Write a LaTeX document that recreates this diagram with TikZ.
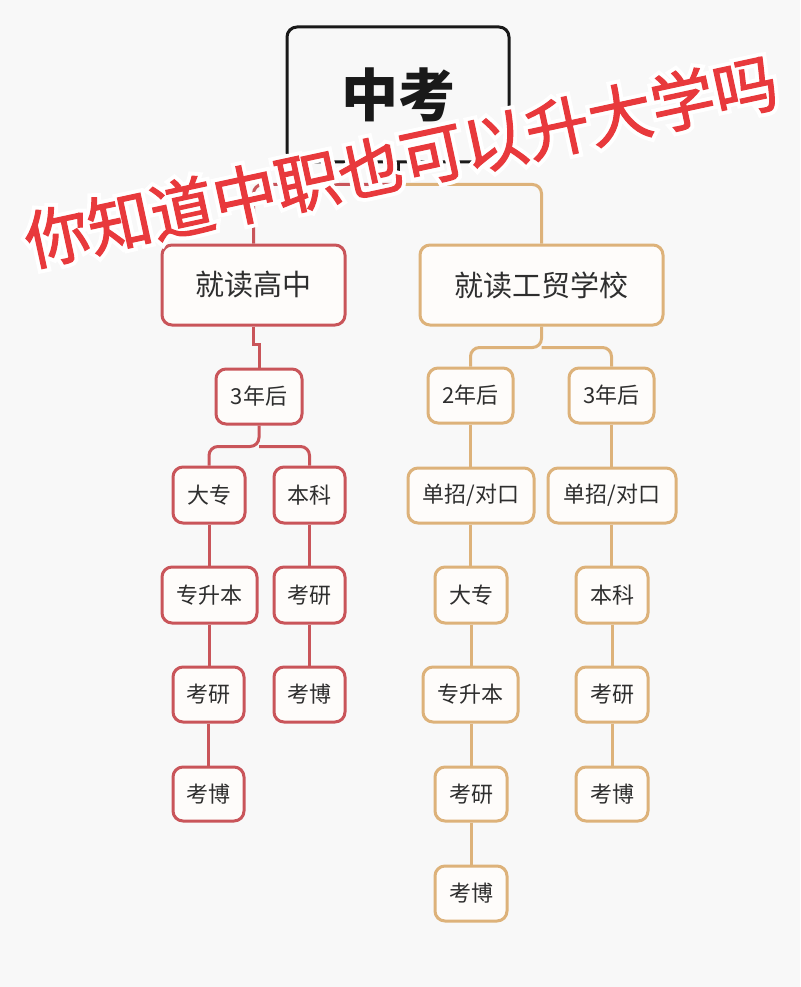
\documentclass[tikz,border=0pt]{standalone}
\usepackage{fontspec}
\setmainfont{Noto Sans CJK SC}
\newfontfamily\overlayfont[FakeBold=1.8]{Noto Sans CJK SC}
\newfontfamily\halofont[FakeBold=14]{Noto Sans CJK SC}
\usetikzlibrary{calc}
\definecolor{bgc}{HTML}{F8F8F8}
\definecolor{boxfill}{HTML}{FEFCFA}
\definecolor{redb}{HTML}{C9555A}
\definecolor{orgb}{HTML}{DDB27A}
\definecolor{txt}{HTML}{2E2E2E}
\definecolor{ovred}{HTML}{E8393C}
\tikzset{
  basebox/.style={rectangle, rounded corners=10pt, line width=3pt, fill=boxfill,
    text=txt, inner sep=0pt, font=\fontsize{22}{26}\selectfont},
  redbox/.style={basebox, draw=redb},
  orgbox/.style={basebox, draw=orgb},
  bigtxt/.style={font=\fontsize{29}{34}\selectfont},
  redline/.style={draw=redb, line width=3pt},
  orgline/.style={draw=orgb, line width=3pt},
  blkline/.style={draw=black!90, line width=3pt},
  ovtext/.style={rotate=12.2, inner sep=0pt}
}
\begin{document}
\begin{tikzpicture}[x=1pt,y=-1pt]
\useasboundingbox (0,0) rectangle (800,987);
\fill[bgc] (0,0) rectangle (800,987);

% top box
\node[rectangle, rounded corners=10pt, line width=3pt, draw=black!90, fill=bgc,
  minimum width=222pt, minimum height=135pt, inner sep=0pt,
  font=\bfseries\fontsize{57}{62}\selectfont, text=black!90] (zk) at (398,94.5) {中考};

% left branch
\node[redbox, bigtxt, minimum width=183pt, minimum height=80pt] (hs) at (253.5,285) {就读高中};
\node[redbox, minimum width=86pt, minimum height=55pt] (l3) at (259,396.5) {3年后};
\node[redbox, minimum width=72pt, minimum height=56pt] (ldz) at (209,495) {大专};
\node[redbox, minimum width=71pt, minimum height=56pt] (lbk) at (309.5,495) {本科};
\node[redbox, minimum width=95pt, minimum height=56pt] (lzsb) at (209.5,595) {专升本};
\node[redbox, minimum width=71pt, minimum height=56pt] (lky2) at (309.5,595) {考研};
\node[redbox, minimum width=71pt, minimum height=55pt] (lky) at (208.5,694.5) {考研};
\node[redbox, minimum width=71pt, minimum height=55pt] (lkb2) at (309.5,694.5) {考博};
\node[redbox, minimum width=71pt, minimum height=54pt] (lkb) at (208.5,794) {考博};

% right branch
\node[orgbox, bigtxt, minimum width=243pt, minimum height=80pt] (gm) at (541.5,285) {就读工贸学校};
\node[orgbox, minimum width=85pt, minimum height=55pt] (r2) at (470.5,395.5) {2年后};
\node[orgbox, minimum width=85pt, minimum height=55pt] (r3) at (611.5,395.5) {3年后};
\node[orgbox, minimum width=126pt, minimum height=55pt] (rdd1) at (471,495.5) {单招/对口};
\node[orgbox, minimum width=128pt, minimum height=55pt] (rdd2) at (612,495.5) {单招/对口};
\node[orgbox, minimum width=72pt, minimum height=56pt] (rdz) at (471,595) {大专};
\node[orgbox, minimum width=72pt, minimum height=56pt] (rbk) at (612,595) {本科};
\node[orgbox, minimum width=95pt, minimum height=55pt] (rzsb) at (470.5,694.5) {专升本};
\node[orgbox, minimum width=72pt, minimum height=55pt] (rky2) at (612,694.5) {考研};
\node[orgbox, minimum width=72pt, minimum height=54pt] (rky) at (471,794) {考研};
\node[orgbox, minimum width=72pt, minimum height=54pt] (rkb2) at (612,794) {考博};
\node[orgbox, minimum width=72pt, minimum height=55pt] (rkb) at (471,893.5) {考博};

% connectors
\draw[blkline] (zk.south) -- ++(0,21) coordinate (j0);
\draw[redline, rounded corners=9pt] (j0) -| (hs.north);
\draw[orgline, rounded corners=9pt] (j0) -| (gm.north);

\draw[redline] (hs.south) -- ++(0,18) -| (l3.north);
\draw[redline, rounded corners=9pt] (l3.south) -- ++(0,21) coordinate (j1) -| (ldz.north);
\draw[redline, rounded corners=9pt] (j1) -| (lbk.north);
\draw[redline] (ldz.south) -- (ldz.south |- lzsb.north);
\draw[redline] (ldz.south |- lzsb.south) -- (ldz.south |- lky.north);
\draw[redline] (lky.south) -- (lkb.north);
\draw[redline] (lbk.south) -- (lky2.north);
\draw[redline] (lky2.south) -- (lkb2.north);

\draw[orgline, rounded corners=9pt] (gm.south) -- ++(0,21) coordinate (j2) -| (r2.north);
\draw[orgline, rounded corners=9pt] (j2) -| (r3.north);
\draw[orgline] (r2.south) -- (r2.south |- rdd1.north);
\draw[orgline] (r2.south |- rdd1.south) -- (r2.south |- rdz.north);
\draw[orgline] (rdz.south) -- (rdz.south |- rzsb.north);
\draw[orgline] (rdz.south |- rzsb.south) -- (rdz.south |- rky.north);
\draw[orgline] (rky.south) -- (rkb.north);
\draw[orgline] (r3.south) -- (r3.south |- rdd2.north);
\draw[orgline] (r3.south |- rdd2.south) -- (r3.south |- rbk.north);
\draw[orgline] (rbk.south) -- (rky2.north);
\draw[orgline] (rky2.south) -- (rkb2.north);

% overlay title with white halo
\coordinate (ov) at (401,161);
\node[ovtext, text=white, font=\halofont\fontsize{64}{70}\selectfont] (ovh) at (ov) {你知道中职也可以升大学吗};
\node[ovtext, text=ovred, font=\overlayfont\fontsize{64}{70}\selectfont] (ovt) at (ov) {你知道中职也可以升大学吗};
\end{tikzpicture}
\end{document}
